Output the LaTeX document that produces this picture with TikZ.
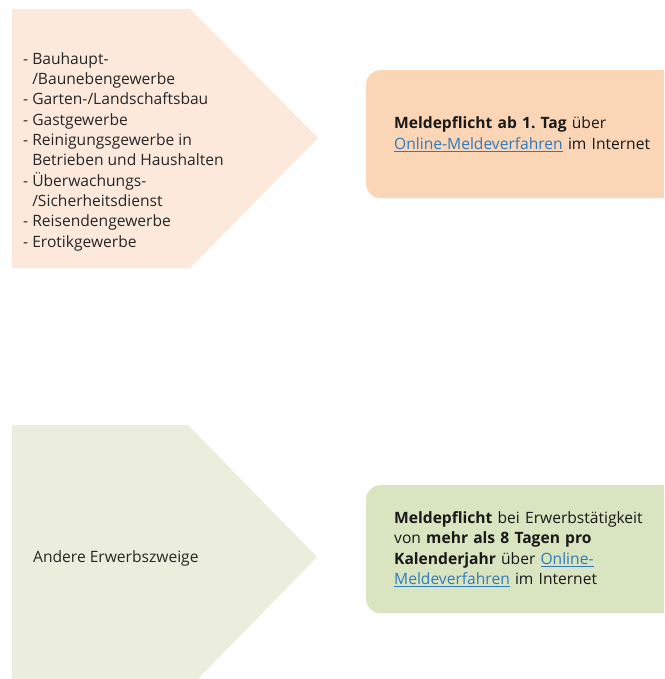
\documentclass[tikz,border=0pt]{standalone}
\usepackage{fontspec}
\setmainfont{Open Sans}
\usetikzlibrary{positioning}
\definecolor{peachlight}{HTML}{FCE9DC}
\definecolor{peach}{HTML}{FAD5B6}
\definecolor{sagelight}{HTML}{EBEEDD}
\definecolor{sage}{HTML}{D9E4C0}
\definecolor{linkblue}{HTML}{2F7BBF}
\newcommand{\weblink}[1]{\textcolor{linkblue}{\underline{#1}}}
\newcommand{\hang}{\phantom{-\ }}
\frenchspacing

\begin{document}
\begin{tikzpicture}[x=1pt,y=-1pt,
                    chevtext/.style={anchor=base west, inner sep=0pt, align=left,
                                     font=\fontsize{15.6}{20.3}\selectfont, text=black!85},
                    infobox/.style={anchor=north west, rounded corners=14pt,
                                    minimum height=128pt, text width=280pt, inner xsep=28pt,
                                    align=left, font=\fontsize{15.6}{20.6}\selectfont, text=black!90}]
    \useasboundingbox (0,0) rectangle (664,679);
    \clip (0,0) rectangle (664,679);
    % chevrons
    \fill[peachlight] (12,9) -- (190,9) -- (318,138) -- (190,268) -- (12,268) -- cycle;
    \fill[sagelight] (12,425) -- (188,425) -- (317,557) -- (188,689) -- (12,689) -- cycle;
    % branch lists
    \node[chevtext] (branchen) at (23,247) {- Bauhaupt-\\
        \hang/Baunebengewerbe\\
        - Garten-/Landschaftsbau\\
        - Gastgewerbe\\
        - Reinigungsgewerbe in\\
        \hang Betrieben und Haushalten\\
        - Überwachungs-\\
        \hang/Sicherheitsdienst\\
        - Reisendengewerbe\\
        - Erotikgewerbe};
    \node[chevtext] (andere) at (33,562) {Andere Erwerbszweige};
    % rules
    \node[infobox, fill=peach] (sofort) at (366,70)
        {\textbf{Meldepflicht ab 1. Tag} über\\
         \weblink{Online-Meldeverfahren} im Internet};
    \node[infobox, fill=sage] (achttage) at (366,485)
        {\textbf{Meldepflicht} bei Erwerbstätigkeit\\
         von \textbf{mehr als 8 Tagen pro}\\
         \textbf{Kalenderjahr} über \weblink{Online-}\\
         \weblink{Meldeverfahren} im Internet};
\end{tikzpicture}
\end{document}
